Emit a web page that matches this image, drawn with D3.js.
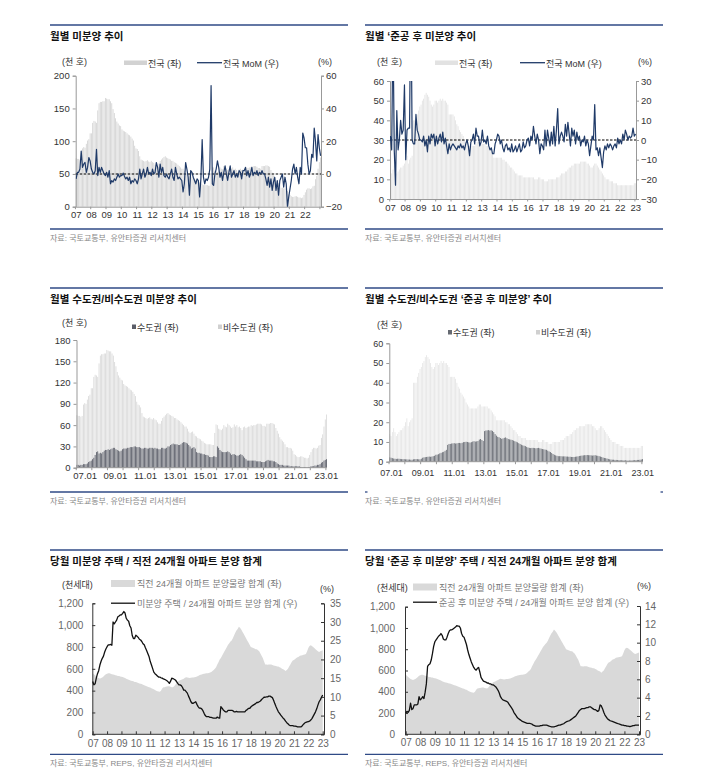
<!DOCTYPE html>
<html>
<head>
<meta charset="utf-8">
<script src="https://cdn.jsdelivr.net/npm/d3@7"></script>
<style>
  body { margin: 0; background: #fff; }
  svg text { font-family: "Liberation Sans", "Noto Sans CJK KR", sans-serif; }
</style>
</head>
<body>
<svg id="chart" width="712" height="783"></svg>
<script>
// monthly series, 2007.01 ~ 2023.01 (193 months)
const N = 193;

// 전국 미분양 (천 호)
const unsoldTotal = [
  74,73,73,72,73,89,91,90,96,101,103,112,
  112,128,131,130,128,147,158,160,160,161,161,166,
  165,164,164,161,158,149,143,135,130,127,124,123,
  118,116,115,114,112,110,109,107,104,101,93,89,
  88,85,77,72,71,70,69,70,71,69,68,70,
  68,67,64,62,62,66,70,72,74,76,77,75,
  74,73,72,70,70,68,67,66,64,62,60,58,
  58,55,51,49,50,51,48,45,44,42,41,40,
  38,37,35,34,33,33,33,33,32,32,49,61,
  60,55,54,53,55,60,58,57,62,60,58,56,
  57,61,58,60,57,58,56,53,57,58,56,57,
  58,58,60,59,60,60,61,62,62,62,61,59,
  59,58,62,62,62,63,63,62,61,56,52,48,
  43,40,38,36,33,29,29,28,28,27,24,19,
  18,16,15,15,16,16,15,14,14,13,14,18,
  22,26,28,28,27,28,31,32,42,47,58,68,
  75
];
// 수도권 미분양 (천 호)
const unsoldMetro = [
  4,4,3,4,4,5,5,5,6,8,9,10,
  12,14,18,22,23,20,21,20,22,24,25,25,
  26,25,26,27,28,28,26,25,24,23,24,26,
  27,27,27,28,28,29,29,29,30,30,29,29,
  29,28,27,27,28,28,27,27,28,28,28,27,
  28,27,27,26,26,28,28,27,27,28,30,30,
  32,33,34,33,33,33,32,32,33,35,36,36,
  35,34,32,30,27,28,29,27,22,21,21,20,
  20,19,19,18,18,17,15,15,15,16,16,15,
  30,28,25,23,22,22,22,22,23,22,20,18,
  19,19,18,17,17,18,19,18,16,14,12,10,
  10,10,10,10,10,10,9,9,9,9,8,8,
  8,9,10,11,10,10,10,9,9,8,6,5,
  4,4,4,3,3,3,3,3,2,2,2,2,
  2,2,2,2,1,1,1,1,1,1,1,1,
  2,2,2,3,3,4,4,5,7,8,10,11,
  12
];
// 전국 미분양 MoM (%)
const unsoldMoM = [
  -3,1,1,3,14,4,6,7,1,4,10,8,
  3,1,0,2,15,-1,4,1,4,2,0,-1,
  1,-2,2,-6,-4,-5,-3,-4,-2,0,-2,-1,
  -1,0.5,-1.5,-3,-2,-4,-2,-6,-4,-5,-3,-4,
  -6,-3,3,-3,0,3,-2,0,4,0,1,-1,
  3,0,1,7,4,-2,6,1,4,-1,-2,0,
  -2,-3,0,3,-2,-4,4,0,-3,-2,-3,-4,
  -11,-6,7,3,-2,-13,2,1,-2,-4,-6,-3,
  -4,-14,-3,21,-2,-6,-3,-4,-2,3,54,-6,
  -7,0,3,8,4,-2,1,-4,1,5,0,-4,
  1,5,-2,0,2,-2,0,-2,2,1,-3,2,
  2,4,-1,2,-2,0,4,-1,1,0,2,-1,
  1,0,2,0,0,-3,-7,-2,-8,-3,-10,-5,
  -2,-10,-4,-13,-4,-2,0,-8,-2,-6,-20,-14,
  -9,-4,3,6,0,4,-2,-6,4,0,25,22,
  16,16,6,0,2,12,10,28,20,8,24,16,
  11
];

// 준공 후 미분양 전국 (천 호)
const completedTotal = [
  14,13,15,17,15,13,14,15,16,16,17,18,
  20,22,18,20,21,22,40,40,40,43,45,47,
  48,50,51,53,54,53,52,50,48,47,48,50,
  50,49,50,51,50,51,50,50,49,48,43,43,
  43,43,42,40,38,37,35,34,33,32,30,29,
  28,27,27,27,27,27,27,28,29,29,28,28,
  28,28,28,27,27,26,25,24,23,21,21,21,
  21,21,21,21,20,20,19,19,18,17,16,16,
  15,14,13,13,12,12,12,12,11,11,11,11,
  11,11,11,11,11,10,10,10,11,11,10,10,
  10,9,9,9,10,10,10,10,10,10,11,11,
  11,12,13,13,13,14,14,15,16,16,17,17,
  18,18,18,18,18,19,19,19,19,19,18,18,
  17,16,16,17,18,18,17,16,15,14,13,12,
  11,10,10,10,9,9,9,8,8,8,7,7,
  7,7,7,7,7,7,7,7,7,7,7,8,
  8
];
// 준공 후 미분양 수도권 (천 호)
const completedMetro = [
  2.2,2.0,1.8,1.6,1.5,1.4,1.5,1.5,1.4,1.3,1.3,1.3,
  1.2,1.2,1.1,1.1,1.0,1.0,1.2,1.3,1.3,1.3,1.2,1.2,
  1.5,2.0,2.2,2.3,2.4,2.5,2.6,2.5,2.6,2.8,3.0,3.5,
  3.6,3.8,4.2,4.5,4.8,5.0,5.5,6.0,8.5,9.0,9.0,9.2,
  9.3,9.4,9.2,9.3,9.5,9.5,9.4,9.6,9.9,10.0,10.1,10.0,
  9.8,9.7,9.9,10.2,10.4,10.2,10.3,10.5,11.2,11.5,11.0,10.5,
  15.5,15.8,15.9,16.0,15.8,15.9,15.6,15.0,14.0,13.2,12.6,12.4,
  12.0,11.6,11.8,12.1,12.3,11.9,11.5,11.3,11.2,11.0,10.7,10.4,
  10.1,9.8,9.4,9.0,8.6,8.3,8.1,7.9,7.5,7.2,7.0,6.9,
  7.0,7.0,6.9,6.8,6.9,7.0,6.8,6.6,6.4,6.3,6.1,6.0,
  5.6,5.2,4.9,4.4,3.9,3.5,3.2,3.0,2.8,2.8,2.8,2.7,
  2.7,2.7,2.6,2.6,2.5,2.5,2.4,2.4,2.4,2.5,2.6,2.7,
  2.9,3.0,3.1,3.2,3.3,3.3,3.4,3.3,3.3,3.2,3.1,3.2,
  3.3,3.1,3.0,2.8,2.6,2.4,2.1,1.9,1.8,1.6,1.4,1.2,
  1.1,1.0,1.0,0.9,0.9,0.8,0.8,0.8,0.7,0.7,0.7,0.7,
  0.6,0.6,0.6,0.6,0.7,0.7,0.8,0.8,0.9,0.9,1.0,1.1,
  1.3
];
// 준공 후 미분양 MoM (%)
const completedMoM = [
  2,-5,60,-5,-23,15,-5,0,10,3,5,28,
  -10,5,6,6,85,0,-2,-2,13,5,3,0,
  0,-1,2,-3,0,-6,2,-2,3,1,3,-3,
  2,-2,1,3,-1,4,-2,1,-3,-7,-2,-5,
  -3,-2,-3,-4,-5,-3,-4,-2,-4,-3,-5,-2,
  0,-3,-8,-1,0,3,-2,6,2,2,-3,-1,
  5,-1,0,-2,2,-3,-5,-4,-7,-7,-2,0,
  3,2,-2,0,-4,-6,-3,-2,-5,-4,-6,-2,
  -6,-5,-3,-6,-4,-2,-6,-5,-1,-4,-3,0,
  1,-3,2,0,7,2,-2,3,0,-7,-2,-3,
  -5,5,-3,5,1,-3,4,-2,7,-3,5,16,
  -2,2,4,2,-1,8,2,9,3,-3,6,2,
  5,-2,4,0,2,-3,0,-1,2,-3,0,-2,
  -8,-3,2,0,18,-5,-4,-8,-4,-9,-14,-6,
  -3,-5,-2,-4,-2,-3,-5,-3,-2,-4,1,-2,
  0,-2,3,0,5,3,0,2,1,2,6,2,
  3
];

// 직전 24개월 아파트 분양물량 합계 (천세대)
const supply24 = [
  560,550,540,530,520,515,510,515,520,530,540,550,
  555,560,560,555,550,548,545,540,538,535,533,530,
  528,525,520,515,510,505,500,495,490,488,485,480,
  478,475,470,465,462,460,455,450,445,440,435,430,
  428,422,418,412,405,400,395,392,390,400,420,430,
  432,435,438,440,440,435,432,430,440,455,470,480,
  490,495,500,505,510,518,522,520,518,515,518,520,
  520,522,525,530,535,540,545,548,552,555,558,560,
  560,562,565,570,580,590,600,615,640,660,685,700,
  720,740,760,780,800,820,835,850,860,880,905,930,
  950,965,985,975,960,940,920,900,880,860,840,820,
  800,795,790,785,780,780,770,760,740,720,700,670,
  640,640,638,640,640,640,635,630,628,625,622,620,
  615,610,600,595,590,580,590,600,620,640,660,675,
  680,690,700,705,710,720,722,725,728,730,735,760,
  790,810,815,810,800,790,780,770,760,755,760,765,
  770
];
// 미분양 주택 / 24개월 분양 합계 (%)
const unsoldRatio = [
  14.1,13.2,13.5,15.0,16.2,17.0,18.5,19.5,20.3,20.9,22.0,22.8,
  23.4,23.9,23.9,24.0,23.8,30.0,29.5,30.0,30.5,31.4,31.6,31.9,
  31.9,32.3,32.8,32.4,31.0,30.5,30.2,29.0,28.4,26.4,25.6,25.6,
  26.5,26.2,25.9,25.4,25.2,24.8,24.2,23.9,23.1,22.4,21.6,20.8,
  19.5,18.6,17.6,16.6,16.2,15.9,15.6,15.3,15.3,15.1,15.0,14.8,
  14.7,14.5,14.3,14.0,13.6,14.2,15.0,14.9,14.7,14.5,14.1,13.6,
  13.2,13.2,13.0,12.5,11.8,11.8,11.4,11.0,10.2,9.5,8.7,8.3,
  8.3,8.5,8.7,8.0,7.4,7.0,7.0,6.8,6.3,5.6,5.0,4.7,
  4.7,4.7,4.5,4.5,4.4,4.3,4.3,4.3,4.6,4.4,4.3,7.4,
  7.0,6.5,6.2,6.0,6.0,6.4,6.4,6.4,6.4,6.3,6.0,6.0,
  6.1,6.0,6.0,6.0,6.0,6.0,6.0,6.0,6.4,6.6,6.9,6.9,
  7.3,7.6,7.8,8.0,8.2,8.5,8.5,8.7,8.9,9.3,9.6,9.9,
  9.9,10.0,10.0,10.2,10.2,10.0,9.8,9.1,8.2,7.4,6.7,6.0,
  5.6,5.1,4.7,4.3,4.0,3.5,3.1,2.8,2.5,2.3,2.3,2.3,
  2.2,2.2,2.1,2.0,2.0,2.0,2.0,2.3,2.7,3.0,3.2,3.3,
  3.4,3.5,3.8,4.2,4.8,5.4,6.0,6.8,7.8,8.7,9.2,9.9,
  10.5
];
// 준공 후 미분양 / 24개월 분양 합계 (%)
const completedRatio = [
  2.3,2.5,2.4,2.6,3.4,2.7,2.8,3.2,3.2,3.2,3.3,4.1,
  3.75,3.9,4.1,3.9,4.6,5.5,7.4,7.6,7.7,8.1,8.8,9.6,
  10.1,10.3,10.5,10.7,10.8,11.0,10.8,10.4,10.3,10.3,10.6,11.0,
  11.3,11.4,11.4,11.5,11.6,11.7,11.85,11.8,11.8,11.6,11.0,10.7,
  10.6,10.2,9.8,9.2,8.7,8.3,7.9,7.6,7.3,7.1,7.0,7.2,
  7.3,6.8,6.2,6.0,5.8,5.75,5.7,5.6,5.6,5.5,5.5,5.4,
  5.4,5.3,5.2,5.0,4.8,4.5,4.1,3.9,3.75,3.7,3.65,3.6,
  3.5,3.3,3.1,2.9,2.7,2.4,2.2,2.0,1.8,1.7,1.6,1.5,
  1.4,1.35,1.3,1.25,1.2,1.2,1.2,1.15,1.1,1.0,0.95,0.9,
  0.9,0.9,0.9,0.95,0.95,1.0,1.0,1.0,1.0,0.95,0.9,0.85,
  0.8,0.8,0.8,0.85,0.9,0.95,1.0,1.0,1.05,1.1,1.15,1.25,
  1.35,1.4,1.45,1.5,1.6,1.7,1.8,1.9,2.0,2.2,2.4,2.6,
  2.7,2.8,2.8,2.8,2.85,2.9,2.9,3.0,3.0,2.9,2.8,2.7,
  2.7,2.6,2.5,2.6,3.2,3.1,2.8,2.4,2.1,1.9,1.7,1.6,
  1.5,1.45,1.4,1.35,1.3,1.25,1.2,1.15,1.1,1.05,1.0,1.0,
  0.95,0.95,0.9,0.9,0.85,0.85,0.9,0.95,0.95,1.0,1.0,1.0,
  1.0
];

const yearLabels16 = ['07','08','09','10','11','12','13','14','15','16','17','18','19','20','21','22'];
const yearLabels17 = yearLabels16.concat(['23']);
const dateLabels = ['07.01','09.01','11.01','13.01','15.01','17.01','19.01','21.01','23.01'];

const NAVY = '#2f4a86';
const LINE_BLUE = '#1f3a68';
const svg = d3.select('#chart');

function frame(x0, x1, top, bottom, title, source, bottomStyle) {
  svg.append('line').attr('x1', x0).attr('x2', x1).attr('y1', top).attr('y2', top)
    .attr('stroke', NAVY).attr('stroke-width', 1.3);
  svg.append('text').attr('x', x0).attr('y', top + 15)
    .attr('font-size', 10.5).attr('font-weight', 'bold').attr('fill', '#111').text(title);
  if (bottomStyle === 'ends') {
    [[x0, x0 + 2.5], [x1 - 2.5, x1]].forEach(s => svg.append('line')
      .attr('x1', s[0]).attr('x2', s[1]).attr('y1', bottom).attr('y2', bottom)
      .attr('stroke', NAVY).attr('stroke-width', 1.3));
  } else {
    svg.append('line').attr('x1', x0).attr('x2', x1).attr('y1', bottom).attr('y2', bottom)
      .attr('stroke', NAVY).attr('stroke-width', 1.3);
  }
  svg.append('text').attr('x', x0).attr('y', bottom + 12)
    .attr('font-size', 8).attr('fill', '#888').text(source);
}

function label(x, y, txt, opts = {}) {
  return svg.append('text').attr('x', x).attr('y', y)
    .attr('font-size', opts.size || 9).attr('fill', opts.color || '#333')
    .attr('text-anchor', opts.anchor || 'start').text(txt);
}

function styleAxis(g, color, size) {
  g.select('.domain').attr('stroke', '#999');
  g.selectAll('.tick line').attr('stroke', '#999');
  g.selectAll('.tick text').attr('fill', color).attr('font-size', size)
    .attr('font-family', '"Liberation Sans", Arial, sans-serif');
}

// small yearly tick marks below a band axis
function yearTicks(x, yBase, len, color) {
  svg.append('g').selectAll('line').data(d3.range(0, N, 12)).join('line')
    .attr('x1', d => x(d) - x.step() * 0.2).attr('x2', d => x(d) - x.step() * 0.2)
    .attr('y1', yBase).attr('y2', yBase + len).attr('stroke', color);
}

// ---------- panels 1 & 2 : bars + MoM line ----------
function barMoMPanel(c) {
  const x = d3.scaleBand().domain(d3.range(N)).range([c.px0, c.px1]).paddingInner(0.35);
  const yL = d3.scaleLinear().domain(c.yL).range([c.py1, c.py0]);
  const yR = d3.scaleLinear().domain(c.yR).range([c.py1, c.py0]);
  const bw = x.bandwidth();

  svg.append('g').selectAll('rect').data(c.bars).join('rect')
    .attr('x', (d, i) => x(i)).attr('width', bw)
    .attr('y', d => yL(d)).attr('height', d => yL(0) - yL(d))
    .attr('fill', c.barColor);

  const gl = svg.append('g').call(d3.axisLeft(yL).tickValues(c.ticksL).tickSize(3).tickPadding(3));
  gl.attr('transform', `translate(${c.px0},0)`);
  styleAxis(gl, '#333', 9.5);
  const gr = svg.append('g').attr('transform', `translate(${c.px1},0)`)
    .call(d3.axisRight(yR).tickValues(c.ticksR).tickSize(3).tickPadding(2)
      .tickFormat(d => d < 0 ? '\u2212' + Math.abs(d) : d));
  styleAxis(gr, '#333', 9.5);
  const gb = svg.append('g').attr('transform', `translate(0,${c.py1})`)
    .call(d3.axisBottom(x).tickValues(d3.range(0, c.labels.length * 12, 12))
      .tickFormat((d, k) => c.labels[k]).tickSize(0).tickPadding(5));
  styleAxis(gb, '#333', 9.5);
  yearTicks(x, c.py1, 2.5, '#999');

  // zero reference
  svg.append('line').attr('x1', c.px0).attr('x2', c.px1)
    .attr('y1', yR(0)).attr('y2', yR(0))
    .attr('stroke', '#000').attr('stroke-width', 1.1).attr('stroke-dasharray', '2.5,1.5');

  const clipId = 'clip' + c.id;
  svg.append('clipPath').attr('id', clipId).append('rect')
    .attr('x', c.px0).attr('y', c.py0).attr('width', c.px1 - c.px0).attr('height', c.py1 - c.py0);
  svg.append('path').datum(c.line)
    .attr('clip-path', `url(#${clipId})`)
    .attr('d', d3.line().x((d, i) => x(i) + bw / 2).y(d => yR(d)))
    .attr('fill', 'none').attr('stroke', LINE_BLUE).attr('stroke-width', 1.2)
    .attr('stroke-linejoin', 'round');

  // legend & units
  label(c.unitX, c.legY - 1, '(천 호)');
  svg.append('rect').attr('x', c.leg1).attr('y', c.legY - 5.5).attr('width', 23).attr('height', 4.5).attr('fill', c.barColor);
  label(c.leg1 + 24, c.legY + 0.5, '전국 (좌)');
  svg.append('line').attr('x1', c.leg2).attr('x2', c.leg2 + 25).attr('y1', c.legY - 3.3).attr('y2', c.legY - 3.3)
    .attr('stroke', LINE_BLUE).attr('stroke-width', 1.3);
  label(c.leg2 + 26, c.legY + 0.5, '전국 MoM (우)');
  label(c.pctX, c.legY - 1, '(%)');
}

frame(50, 348, 25, 229, '월별 미분양 추이', '자료: 국토교통부, 유안타증권 리서치센터');
barMoMPanel({
  id: 1, bars: unsoldTotal, line: unsoldMoM, barColor: '#d2d2d2',
  px0: 75.7, px1: 321, py0: 75.7, py1: 206.7,
  yL: [0, 200], yR: [-20, 60], ticksL: [0, 50, 100, 150, 200], ticksR: [-20, 0, 20, 40, 60],
  labels: yearLabels16, unitX: 62, leg1: 124, leg2: 197, legY: 66, pctX: 318
});

frame(365, 663, 25, 229, '월별 \u2018준공 후 미분양 추이', '자료: 국토교통부, 유안타증권 리서치센터');
barMoMPanel({
  id: 2, bars: completedTotal, line: completedMoM, barColor: '#e2e2e2',
  px0: 390, px1: 636, py0: 81, py1: 199,
  yL: [0, 60], yR: [-30, 30], ticksL: [0, 10, 20, 30, 40, 50, 60], ticksR: [-30, -20, -10, 0, 10, 20, 30],
  labels: yearLabels17, unitX: 377, leg1: 435, leg2: 520, legY: 66, pctX: 638
});

// ---------- panels 3 & 4 : stacked 수도권 / 비수도권 ----------
function stackPanel(c) {
  const x = d3.scaleBand().domain(d3.range(N)).range([c.px0, c.px1]).paddingInner(0.35);
  const y = d3.scaleLinear().domain(c.yDom).range([c.py1, c.py0]);
  const bw = x.bandwidth();
  // 비수도권 sits on top of 수도권: bar from 0 to 전국 total, then 수도권 over it
  svg.append('g').selectAll('rect').data(c.total).join('rect')
    .attr('x', (d, i) => x(i)).attr('width', bw)
    .attr('y', d => y(d)).attr('height', d => y(0) - y(d)).attr('fill', c.lightColor);
  svg.append('g').selectAll('rect').data(c.metro).join('rect')
    .attr('x', (d, i) => x(i)).attr('width', bw)
    .attr('y', d => y(d)).attr('height', d => y(0) - y(d)).attr('fill', c.darkColor);

  const gl = svg.append('g').attr('transform', `translate(${c.px0},0)`)
    .call(d3.axisLeft(y).tickValues(c.ticks).tickSize(3).tickPadding(3));
  styleAxis(gl, '#333', c.fontSize);
  // bottom axis: baseline + labels every two years (Excel-style label spread)
  svg.append('line').attr('x1', c.px0).attr('x2', c.px1).attr('y1', c.py1).attr('y2', c.py1).attr('stroke', '#999');
  yearTicks(x, c.py1, 2.5, '#999');
  const xl = d3.scalePoint().domain(dateLabels).range(c.labelRange);
  const gb = svg.append('g').attr('transform', `translate(0,${c.py1})`)
    .call(d3.axisBottom(xl).tickSize(0).tickPadding(c.xPad));
  gb.select('.domain').remove();
  styleAxis(gb, '#333', c.fontSize);

  label(c.unitX, c.unitY, '(천 호)');
  svg.append('rect').attr('x', c.leg1).attr('y', c.legY - 6).attr('width', 4).attr('height', 4.5).attr('fill', c.darkColor);
  label(c.leg1 + 5, c.legY, '수도권 (좌)');
  svg.append('rect').attr('x', c.leg2).attr('y', c.legY - 6).attr('width', 4).attr('height', 4.5).attr('fill', '#d0d0d0');
  label(c.leg2 + 5, c.legY, '비수도권 (좌)');
}

frame(50, 348, 288, 492, '월별 수도권/비수도권 미분양 추이', '자료: 국토교통부, 유안타증권 리서치센터');
stackPanel({
  total: unsoldTotal, metro: unsoldMetro, lightColor: '#d9d9d9', darkColor: '#5a5d68',
  px0: 76.5, px1: 327, py0: 340, py1: 467.7, yDom: [0, 180], ticks: [0, 30, 60, 90, 120, 150, 180],
  labelRange: [84.7, 325.8], xPad: 4.5, fontSize: 9.5, unitX: 62, unitY: 326, leg1: 132, leg2: 218, legY: 330.5
});

frame(365, 663, 288, 492, '월별 수도권/비수도권 \u2018준공 후 미분양\u2019 추이', '자료: 국토교통부, 유안타증권 리서치센터', 'ends');
stackPanel({
  total: completedTotal, metro: completedMetro, lightColor: '#e6e6e6', darkColor: '#666a72',
  px0: 389.3, px1: 643, py0: 343.3, py1: 461.7, yDom: [0, 60], ticks: [0, 10, 20, 30, 40, 50, 60],
  labelRange: [391, 642.2], xPad: 7.5, fontSize: 9, unitX: 377, unitY: 327.5, leg1: 448, leg2: 536, legY: 336
});

// ---------- panels 5 & 6 : 24-month supply area + ratio line ----------
function ratioPanel(c) {
  const x = d3.scaleLinear().domain([0, N - 1]).range([c.lx0, c.lx1]);
  const yL = d3.scaleLinear().domain([0, 1200]).range([c.py1, c.py0]);
  const yR = d3.scaleLinear().domain([0, c.rMax]).range([c.py1, c.pyR0]);

  svg.append('path').datum(supply24)
    .attr('d', d3.area().x((d, i) => x(i)).y0(yL(0)).y1(d => yL(d)))
    .attr('fill', '#d9d9d9');

  const dark = '#333';
  const gl = svg.append('g').attr('transform', `translate(${c.px0},0)`)
    .call(d3.axisLeft(yL).tickValues([0, 200, 400, 600, 800, 1000, 1200]).tickSize(-3).tickPadding(c.lPad)
      .tickFormat(d3.format(',')));
  styleAxis(gl, '#666', 10);
  gl.select('.domain').attr('stroke', dark);
  gl.selectAll('.tick line').attr('stroke', dark);
  const gr = svg.append('g').attr('transform', `translate(${c.px1},0)`)
    .call(d3.axisRight(yR).tickValues(c.ticksR).tickSize(-3).tickPadding(c.rPad));
  styleAxis(gr, '#666', 10);
  gr.select('.domain').attr('stroke', dark);
  gr.selectAll('.tick line').attr('stroke', dark);
  const gb = svg.append('g').attr('transform', `translate(0,${c.py1})`)
    .call(d3.axisBottom(x).tickValues(d3.range(0, N, 12))
      .tickFormat((d, k) => yearLabels17[k]).tickSize(-3).tickPadding(c.xPad));
  styleAxis(gb, '#666', 10);
  gb.select('.domain').attr('stroke', dark).attr('d', `M${c.px0},0H${c.px1}`);
  gb.selectAll('.tick line').attr('stroke', dark);

  svg.append('path').datum(c.line)
    .attr('d', d3.line().x((d, i) => x(i)).y(d => yR(d)))
    .attr('fill', 'none').attr('stroke', '#111').attr('stroke-width', 1.3)
    .attr('stroke-linejoin', 'round');

  label(c.unitX, c.unitY, '(천세대)', { size: 9 });
  svg.append('rect').attr('x', c.legX).attr('y', c.leg1Y - 7).attr('width', 24).attr('height', 7).attr('fill', '#d9d9d9');
  label(c.legX + 26, c.leg1Y, '직전 24개월 아파트 분양물량 합계 (좌)', { color: '#777', size: 9 });
  svg.append('line').attr('x1', c.legX).attr('x2', c.legX + 24).attr('y1', c.leg2Y - 3.3).attr('y2', c.leg2Y - 3.3)
    .attr('stroke', '#111').attr('stroke-width', 1.3);
  label(c.legX + 26, c.leg2Y, c.lineName, { color: '#777', size: 9 });
  label(c.pctX, c.pctY, '(%)', { size: 9 });
}

frame(50, 348, 550, 754.3, '당월 미분양 주택 / 직전 24개월 아파트 분양 합계', '자료: 국토교통부, REPS, 유안타증권 리서치센터');
ratioPanel({
  line: unsoldRatio, rMax: 35, ticksR: [0, 5, 10, 15, 20, 25, 30, 35],
  px0: 92.3, px1: 324, lx0: 92.7, lx1: 322.7, py0: 603.3, pyR0: 603.3, py1: 734.3,
  lPad: 9, rPad: 6, xPad: 6, unitX: 62, unitY: 587.5, legX: 111, leg1Y: 587, leg2Y: 606.5,
  lineName: '미분양 주택 / 24개월 아파트 분양 합계 (우)', pctX: 320, pctY: 591.5
});

frame(365, 663, 550, 754.3, '당월 \u2018준공 후 미분양\u2019 주택 / 직전 24개월 아파트 분양 합계', '자료: 국토교통부, REPS, 유안타증권 리서치센터');
ratioPanel({
  line: completedRatio, rMax: 14, ticksR: [0, 2, 4, 6, 8, 10, 12, 14],
  px0: 405, px1: 640, lx0: 405.7, lx1: 639, py0: 606.7, pyR0: 606, py1: 734.3,
  lPad: 10, rPad: 5, xPad: 5, unitX: 377, unitY: 591, legX: 413, leg1Y: 590.5, leg2Y: 605.5,
  lineName: '준공 후 미분양 주택 / 24개월 아파트 분양 합계 (우)', pctX: 637, pctY: 588.5
});
</script>
</body>
</html>
